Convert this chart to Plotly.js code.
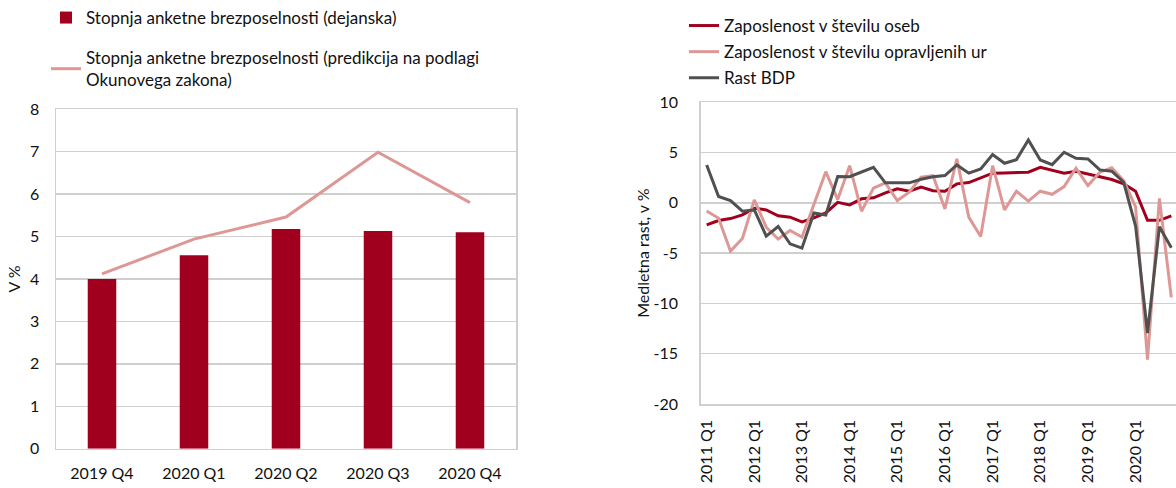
<!DOCTYPE html>
<html>
<head>
<meta charset="utf-8">
<script src="https://cdn.plot.ly/plotly-3.0.1.min.js"></script>
<style>
html,body{margin:0;padding:0;background:#fff;}
#chart{width:1176px;height:488px;}
</style>
</head>
<body>
<div id="chart"></div>
<script>
// ---- Left chart data ----
const leftCategories = ['2019 Q4', '2020 Q1', '2020 Q2', '2020 Q3', '2020 Q4'];
const unemploymentActual = [4.0, 4.56, 5.18, 5.13, 5.10];
const unemploymentOkun = [4.12, 4.94, 5.46, 6.99, 5.80];
const leftYTicks = [0, 1, 2, 3, 4, 5, 6, 7, 8];

// ---- Right chart data ----
const rightYears = [2011, 2012, 2013, 2014, 2015, 2016, 2017, 2018, 2019, 2020];
const quarterNames = ['Q1', 'Q2', 'Q3', 'Q4'];
const rightCategories = [];
rightYears.forEach(y => quarterNames.forEach(q => rightCategories.push(y + ' ' + q)));
const employmentPersons = [
  -2.19, -1.75, -1.56, -1.19,
  -0.53, -0.70, -1.29, -1.42,
  -1.89, -1.50, -1.00, 0.05,
  -0.20, 0.40, 0.50, 1.00,
  1.39, 1.16, 1.56, 1.20,
  1.16, 1.89, 2.02, 2.45,
  2.95, 2.98, 3.05, 3.05,
  3.54, 3.25, 2.95, 3.15,
  2.88, 2.62, 2.32, 1.89,
  1.16, -1.74, -1.74, -1.30
];
const employmentHours = [
  -0.80, -1.52, -4.80, -3.54,
  0.30, -2.42, -3.60, -2.75,
  -3.41, -0.10, 3.10, 0.33,
  3.70, -0.83, 1.46, 1.99,
  0.23, 1.06, 2.55, 2.70,
  -0.60, 4.37, -1.42, -3.34,
  3.70, -0.70, 1.16, 0.17,
  1.16, 0.85, 1.62, 3.44,
  1.72, 3.05, 3.48, 2.22,
  -0.40, -15.60, 0.45, -9.40
];
const gdpGrowth = [
  3.77, 0.63, 0.23, -0.83,
  -0.70, -3.30, -2.35, -4.07,
  -4.50, -1.00, -1.20, 2.62,
  2.60, 3.08, 3.54, 1.99,
  1.99, 1.99, 2.35, 2.60,
  2.72, 3.77, 2.95, 3.38,
  4.80, 3.94, 4.30, 6.26,
  4.27, 3.80, 5.03, 4.44,
  4.37, 3.28, 3.15, 2.05,
  -2.30, -12.94, -2.37, -4.47
];
const rightTickLabels = rightCategories.filter(c => c.endsWith('Q1'));
const rightYTicks = [-20, -15, -10, -5, 0, 5, 10];
const rightYTickText = rightYTicks.map(v => String(v)); // hyphen-minus as in the original

const W = 1176, H = 488;
const px = v => v / W;
const py = v => 1 - v / H;

const darkRed = '#a0001e';
const pink = '#dd9896';
const gray = '#505050';
const gridColor = '#cfcfcf';
const fontFamily = 'Lato, "Open Sans", sans-serif';

const traces = [
  {
    type: 'bar', x: leftCategories, y: unemploymentActual,
    name: 'Stopnja anketne brezposelnosti (dejanska)',
    marker: {color: darkRed}, xaxis: 'x', yaxis: 'y', legend: 'legend',
    legendgroup: 'a'
  },
  {
    type: 'scatter', mode: 'lines', x: leftCategories, y: unemploymentOkun,
    name: 'Stopnja anketne brezposelnosti (predikcija na podlagi<br>Okunovega zakona)',
    line: {color: pink, width: 3}, xaxis: 'x', yaxis: 'y', legend: 'legend',
    legendgroup: 'b'
  },
  {
    type: 'scatter', mode: 'lines', x: rightCategories, y: employmentPersons,
    name: 'Zaposlenost v številu oseb',
    line: {color: darkRed, width: 3}, xaxis: 'x2', yaxis: 'y2', legend: 'legend2',
    legendgroup: 'c'
  },
  {
    type: 'scatter', mode: 'lines', x: rightCategories, y: employmentHours,
    name: 'Zaposlenost v številu opravljenih ur',
    line: {color: pink, width: 3}, xaxis: 'x2', yaxis: 'y2', legend: 'legend2',
    legendgroup: 'd'
  },
  {
    type: 'scatter', mode: 'lines', x: rightCategories, y: gdpGrowth,
    name: 'Rast BDP',
    line: {color: gray, width: 3}, xaxis: 'x2', yaxis: 'y2', legend: 'legend2',
    legendgroup: 'e'
  }
];

const tickFont = {family: fontFamily, size: 16, color: '#111'};
const legendFont = {family: fontFamily, size: 17, color: '#111'};

const layout = {
  width: W, height: H,
  margin: {l: 0, r: 0, t: 0, b: 0},
  paper_bgcolor: '#fff', plot_bgcolor: '#fff',
  font: {family: fontFamily, size: 16, color: '#111'},
  showlegend: true,
  bargap: 0.69,
  xaxis: {
    domain: [px(56), px(516)],
    type: 'category',
    range: [-0.5, 4.5],
    showgrid: false,
    showline: true, linecolor: gridColor, linewidth: 1.5, mirror: true,
    ticks: 'outside', ticklen: 10, tickcolor: 'rgba(0,0,0,0)',
    tickfont: tickFont, fixedrange: true
  },
  yaxis: {
    domain: [py(448.7), py(109.3)],
    range: [0, 8],
    tickmode: 'array', tickvals: leftYTicks, ticktext: leftYTicks.map(String),
    showgrid: true, gridcolor: gridColor, gridwidth: 1.5,
    zeroline: false,
    showline: true, linecolor: gridColor, linewidth: 1.5, mirror: true,
    ticks: 'outside', ticklen: 12, tickcolor: 'rgba(0,0,0,0)',
    tickfont: tickFont,
    title: {text: 'V %', font: {family: fontFamily, size: 16, color: '#111'}, standoff: 5},
    fixedrange: true
  },
  xaxis2: {
    domain: [px(700.7), px(1175.5)],
    type: 'category',
    range: [-0.5, 39.35],
    tickmode: 'array', tickvals: rightTickLabels, ticktext: rightTickLabels,
    tickangle: -90,
    showgrid: false,
    showline: true, linecolor: gridColor, linewidth: 1.5, mirror: true,
    ticks: 'outside', ticklen: 8, tickcolor: 'rgba(0,0,0,0)',
    tickfont: tickFont, fixedrange: true, anchor: 'y2'
  },
  yaxis2: {
    domain: [py(404), py(102.3)],
    range: [-20, 10],
    tickmode: 'array', tickvals: rightYTicks, ticktext: rightYTickText,
    showgrid: true, gridcolor: gridColor, gridwidth: 1.5,
    zeroline: false,
    showline: true, linecolor: gridColor, linewidth: 1.5, mirror: true,
    ticks: 'outside', ticklen: 18, tickcolor: 'rgba(0,0,0,0)',
    tickfont: tickFont,
    title: {text: 'Medletna rast, v %', font: {family: fontFamily, size: 16, color: '#111'}, standoff: 0},
    fixedrange: true, anchor: 'x2'
  },
  legend: {
    x: px(46), y: py(0), xanchor: 'left', yanchor: 'top',
    bgcolor: 'rgba(0,0,0,0)', font: legendFont,
    tracegroupgap: 15, itemwidth: 30, traceorder: 'grouped'
  },
  legend2: {
    x: px(684), y: py(8), xanchor: 'left', yanchor: 'top',
    bgcolor: 'rgba(0,0,0,0)', font: legendFont,
    tracegroupgap: 1, itemwidth: 30, traceorder: 'grouped'
  }
};

Plotly.newPlot('chart', traces, layout, {displayModeBar: false, staticPlot: true});
</script>
</body>
</html>
